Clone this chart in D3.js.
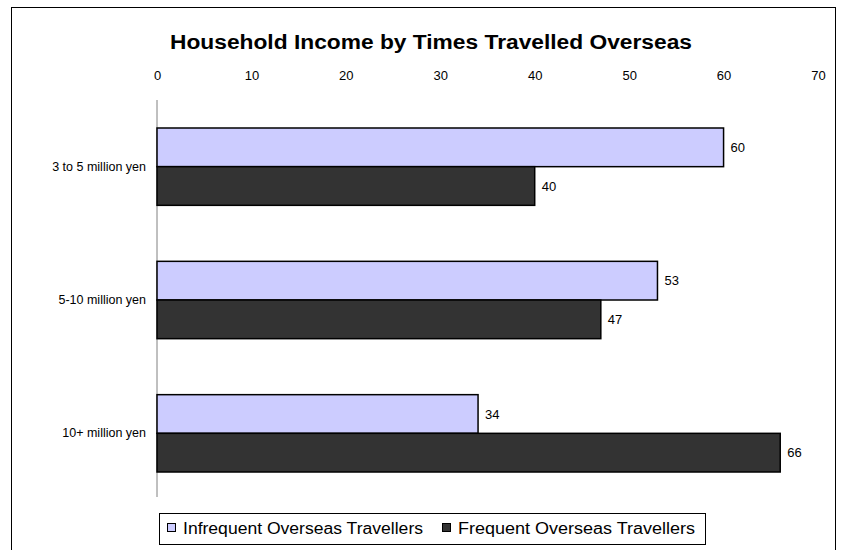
<!DOCTYPE html>
<html>
<head>
<meta charset="utf-8">
<script src="https://cdn.jsdelivr.net/npm/d3@7"></script>
<style>
  html, body { margin: 0; padding: 0; background: #fff; }
  svg { display: block; font-family: "Liberation Sans", Arial, sans-serif; }
</style>
</head>
<body>
<svg id="chart" width="842" height="550"></svg>
<script>
// Household income bands and share of each traveller group (%)
const categories = ["3 to 5 million yen", "5-10 million yen", "10+ million yen"];
const seriesNames = ["Infrequent Overseas Travellers", "Frequent Overseas Travellers"];
const infrequent = [60, 53, 34];
const frequent = [40, 47, 66];
const tickValues = [0, 10, 20, 30, 40, 50, 60, 70];
const colors = ["#ccccff", "#333333"];

const FONT = "Liberation Sans, Arial, sans-serif";

const svg = d3.select("#chart");

// outer frame
svg.append("rect")
  .attr("x", 11.5).attr("y", 7.5)
  .attr("width", 824).attr("height", 560)
  .attr("fill", "#fff").attr("stroke", "#000").attr("stroke-width", 1);

svg.append("text")
  .attr("x", 431).attr("y", 49)
  .attr("text-anchor", "middle")
  .attr("font-weight", "bold")
  .attr("font-size", 20)
  .attr("textLength", 522)
  .attr("lengthAdjust", "spacingAndGlyphs")
  .text("Household Income by Times Travelled Overseas");

const x = d3.scaleLinear().domain([0, 70]).range([157, 818]);
const y = d3.scaleBand().domain(categories).range([100, 500]).paddingInner(0.42).paddingOuter(0.21);
const ySub = d3.scaleBand().domain(seriesNames).range([0, y.bandwidth()]);

// top value axis (labels only)
const xAxis = svg.append("g")
  .attr("transform", "translate(0,80)")
  .call(d3.axisTop(x).tickValues(tickValues).tickSize(0).tickPadding(0));
xAxis.select(".domain").remove();
xAxis.attr("font-size", null).attr("font-family", null);
xAxis.selectAll("text")
  .attr("font-size", 13).attr("font-family", FONT).attr("fill", "#000");

// category axis
const yAxis = svg.append("g")
  .attr("transform", `translate(${x(0)},0)`)
  .call(d3.axisLeft(y).tickSize(0).tickPadding(11));
yAxis.select(".domain").remove();
yAxis.attr("font-size", null).attr("font-family", null);
yAxis.selectAll("text")
  .attr("font-size", 12.5).attr("font-family", FONT).attr("fill", "#000");
svg.append("line")
  .attr("x1", x(0)).attr("x2", x(0))
  .attr("y1", 100).attr("y2", 497)
  .attr("stroke", "#808080").attr("stroke-width", 1);

const rows = categories.map((c, i) => ({ cat: c, values: [infrequent[i], frequent[i]] }));

const groups = svg.append("g").selectAll("g")
  .data(rows).join("g")
  .attr("transform", d => `translate(0,${y(d.cat)})`);

groups.selectAll("rect")
  .data(d => d.values.map((v, j) => ({ name: seriesNames[j], v, j })))
  .join("rect")
  .attr("x", x(0))
  .attr("y", d => ySub(d.name))
  .attr("width", d => x(d.v) - x(0))
  .attr("height", ySub.bandwidth())
  .attr("fill", d => colors[d.j])
  .attr("stroke", "#000").attr("stroke-width", 1.5);

groups.selectAll("text.val")
  .data(d => d.values.map((v, j) => ({ name: seriesNames[j], v, j })))
  .join("text")
  .attr("class", "val")
  .attr("x", d => x(d.v) + 7)
  .attr("y", d => ySub(d.name) + ySub.bandwidth() / 2)
  .attr("dy", "0.35em")
  .attr("font-size", 13)
  .text(d => d.v);

// legend
const legend = svg.append("g");
legend.append("rect")
  .attr("x", 159.5).attr("y", 513.5).attr("width", 546).attr("height", 31)
  .attr("fill", "#fff").attr("stroke", "#000").attr("stroke-width", 1);
const legendX = [167, 442];
const legendW = [240, 237];
seriesNames.forEach((name, j) => {
  legend.append("rect")
    .attr("x", legendX[j] + 0.5).attr("y", 523.5).attr("width", 8).attr("height", 8)
    .attr("fill", colors[j]).attr("stroke", "#000").attr("stroke-width", 1);
  legend.append("text")
    .attr("x", legendX[j] + 16).attr("y", 528.5)
    .attr("dy", "0.35em")
    .attr("font-size", 16)
    .attr("textLength", legendW[j])
    .attr("lengthAdjust", "spacingAndGlyphs")
    .text(name);
});
</script>
</body>
</html>
